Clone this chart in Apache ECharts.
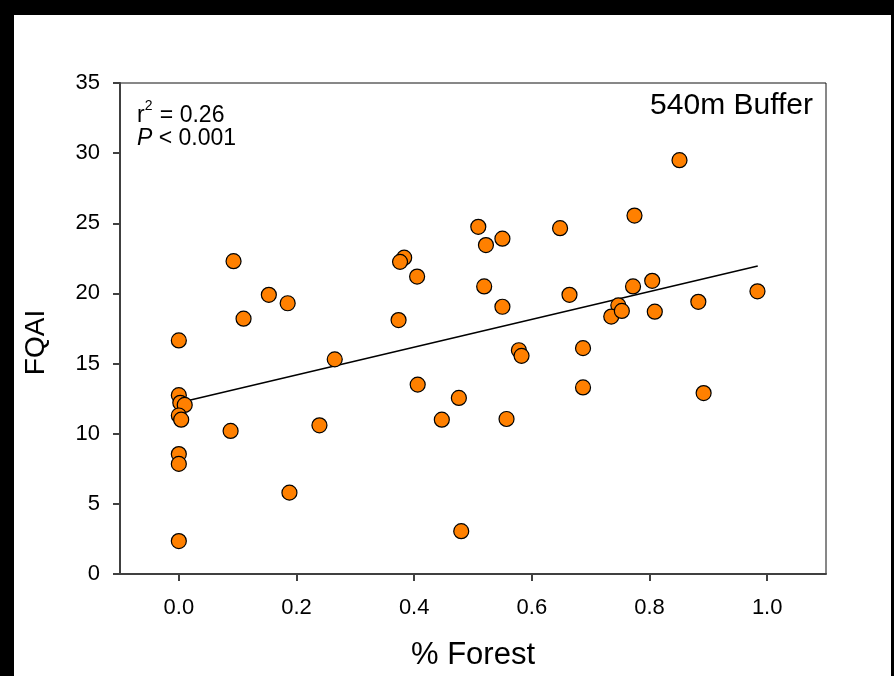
<!DOCTYPE html>
<html>
<head>
<meta charset="utf-8">
<script src="https://cdn.jsdelivr.net/npm/echarts@6/dist/echarts.min.js"></script>
<style>
  html, body { margin: 0; padding: 0; background: #000; }
  #wrap { position: relative; width: 894px; height: 676px; background: #000; }
  #chart { position: absolute; left: 14px; top: 15px; width: 877px; height: 661px; background: #fff; }
</style>
</head>
<body>
<div id="wrap"><div id="chart"></div></div>
<script>
// % forest within the 540m buffer (x) and FQAI (y), one entry per site
var forestPct = [0, 0, 0.0025, 0.01, 0, 0.004, 0, 0, 0,
  0.088, 0.093, 0.110, 0.153, 0.185, 0.188, 0.239, 0.265,
  0.509, 0.648, 0.522, 0.550, 0.383, 0.376, 0.405, 0.519, 0.664, 0.550,
  0.3735, 0.578, 0.5825, 0.687, 0.687, 0.406, 0.476, 0.447, 0.557, 0.480,
  0.851, 0.7745, 0.772, 0.8046, 0.747, 0.735, 0.753, 0.809, 0.883, 0.9835, 0.892]
var fqai = [16.65, 12.75, 12.2, 12.05, 11.3, 11.0, 8.55, 7.85, 2.35,
  10.2, 22.3, 18.2, 19.9, 19.3, 5.8, 10.6, 15.3,
  24.75, 24.65, 23.45, 23.9, 22.55, 22.25, 21.2, 20.5, 19.9, 19.05,
  18.1, 15.95, 15.55, 16.1, 13.3, 13.5, 12.55, 11.0, 11.05, 3.05,
  29.5, 25.55, 20.5, 20.9, 19.15, 18.35, 18.75, 18.7, 19.4, 20.15, 12.9]

// fitted regression line end points
var fitX = [0, 0.984]
var fitY = [12.2, 21.95]

var xTicks = [0, 0.2, 0.4, 0.6, 0.8, 1.0]

var chart = echarts.init(document.getElementById('chart'))

var points = []
for (var i = 0; i < forestPct.length; i++) {
  points.push([forestPct[i], fqai[i]])
}
var fitLine = []
for (var j = 0; j < fitX.length; j++) {
  fitLine.push([fitX[j], fitY[j]])
}

var axisColor = '#404040'
var font = "'Liberation Sans', Arial, sans-serif"

var option = {
  animation: false,
  backgroundColor: '#fff',
  grid: {
    left: 106,
    top: 68,
    right: 65,
    bottom: 99,
    show: true,
    borderColor: '#111',
    borderWidth: 1
  },
  xAxis: {
    type: 'value',
    min: -0.1,
    max: 1.1,
    name: '% Forest',
    nameLocation: 'middle',
    nameGap: 66,
    nameTextStyle: { fontFamily: font, fontSize: 31, color: '#000' },
    axisLine: { show: true, onZero: false, lineStyle: { color: axisColor, width: 2 } },
    axisTick: { show: true, inside: false, length: 7, customValues: xTicks, lineStyle: { color: axisColor, width: 2 } },
    axisLabel: {
      customValues: xTicks,
      margin: 23,
      fontFamily: "'Liberation Sans Narrow', " + font,
      fontSize: 22,
      color: '#000',
      formatter: function (v) { return v.toFixed(1) }
    },
    splitLine: { show: false }
  },
  yAxis: {
    type: 'value',
    min: 0,
    max: 35,
    interval: 5,
    name: 'FQAI',
    nameLocation: 'middle',
    nameGap: 70,
    nameTextStyle: { fontFamily: font, fontSize: 28, color: '#000', padding: [0, 28, 0, 0] },
    axisLine: { show: true, onZero: false, lineStyle: { color: axisColor, width: 2 } },
    axisTick: { show: true, inside: false, length: 7, lineStyle: { color: axisColor, width: 2 } },
    axisLabel: { margin: 20, fontFamily: font, fontSize: 22, color: '#000' },
    splitLine: { show: false }
  },
  graphic: [
    {
      type: 'text',
      left: 123,
      top: 84,
      style: {
        text: '{a|r}{s|2}{a| = 0.26}',
        rich: {
          a: { fontFamily: font, fontSize: 23, fill: '#000', verticalAlign: 'bottom', lineHeight: 28 },
          s: { fontFamily: font, fontSize: 14, fill: '#000', verticalAlign: 'top', lineHeight: 28, padding: [0, 1, 10, 0] }
        }
      }
    },
    {
      type: 'text',
      left: 123,
      top: 112,
      style: {
        text: '{i|P}{a| < 0.001}',
        rich: {
          i: { fontFamily: font, fontSize: 23, fontStyle: 'italic', fill: '#000' },
          a: { fontFamily: font, fontSize: 23, fill: '#000' }
        }
      }
    },
    {
      type: 'text',
      right: 78,
      top: 76,
      style: { text: '540m Buffer', fontFamily: font, fontSize: 30, fill: '#000' }
    }
  ],
  series: [
    {
      type: 'line',
      data: fitLine,
      symbol: 'none',
      z: 2,
      lineStyle: { color: '#000', width: 1.5 }
    },
    {
      type: 'scatter',
      data: points,
      symbol: 'circle',
      symbolSize: 15,
      z: 3,
      itemStyle: { color: '#ff8000', borderColor: '#000', borderWidth: 1.2, opacity: 1 }
    }
  ]
}

chart.setOption(option)
</script>
</body>
</html>
